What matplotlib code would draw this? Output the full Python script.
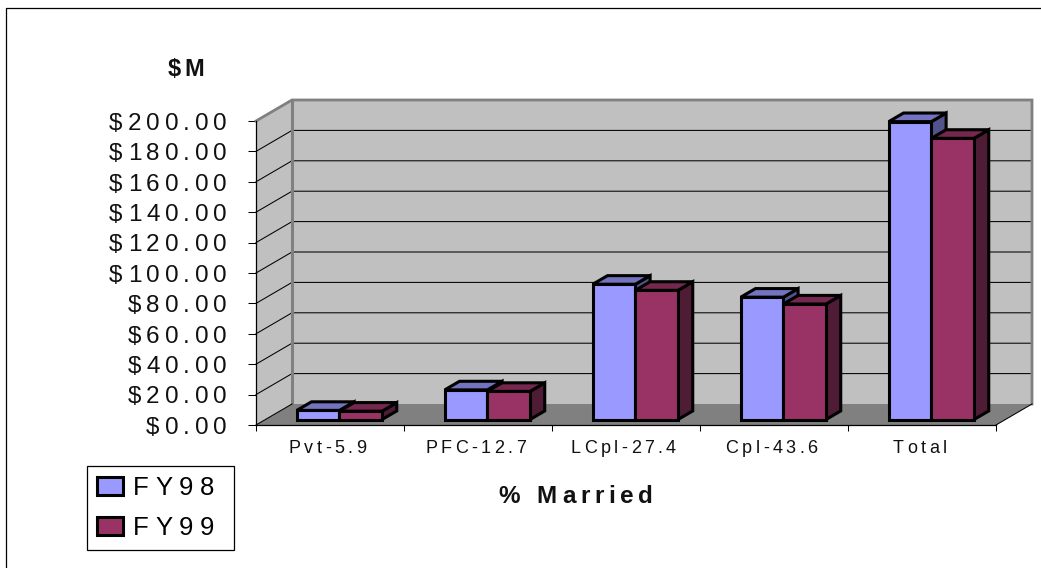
import matplotlib
matplotlib.use("Agg")
import matplotlib.pyplot as plt
from matplotlib.font_manager import findfont, get_font
from matplotlib.ft2font import LoadFlags
from matplotlib.lines import Line2D
from matplotlib.patches import Patch, Polygon
from matplotlib.text import Text
from matplotlib.transforms import Bbox, IdentityTransform

categories = ["Pvt-5.9", "PFC-12.7", "LCpl-27.4", "Cpl-43.6", "Total"]
fy98 = [6, 19.5, 89, 80.5, 196]
fy99 = [5.5, 18.5, 85, 76, 185]
series_names = ["FY98", "FY99"]
y_ticks = list(range(0, 201, 20))
y_labels = [f"${v:.2f}" for v in y_ticks]

plt.rcParams["font.family"] = ["Liberation Sans", "DejaVu Sans"]
W, H = 1041, 568
fig = plt.figure(figsize=(W / 100, H / 100), dpi=100, facecolor="white")
ax = fig.add_axes([256 / W, 1 - 425 / H, 740 / W, 304 / H])
ax.set_xlim(0, 5)
ax.set_ylim(0, 200)
ax.patch.set_visible(False)

# pseudo-3D depth, expressed in data units per full chart depth
DX = 36 / 148
DY = 21 / 1.52
WALL, FLOOR = "#C0C0C0", "#808080"
C98 = ("#9999FF", "#7373C0", "#53538C")
C99 = ("#993366", "#75274E", "#4F1C36")


def P(x, y, d=0.0):
    return (x + d * DX, y + d * DY)


def face(points, fc, ec="none", lw=0.0, z=1):
    ax.add_patch(Polygon(points, closed=True, fc=fc, ec=ec, lw=lw, zorder=z,
                         clip_on=False, joinstyle="miter"))


# walls and floor
face([P(0, 0), P(0, 200), P(0, 200, 1), P(0, 0, 1)], WALL, z=1)
face([P(0, 0, 1), P(0, 200, 1), P(5, 200, 1), P(5, 0, 1)], WALL, z=1)
face([P(0, 0), P(5, 0), P(5, 0, 1), P(0, 0, 1)], FLOOR, z=1)
for v in y_ticks[1:-1]:
    ax.plot(*zip(P(0, v), P(0, v, 1), P(5, v, 1)), color="black", lw=0.75,
            zorder=2, clip_on=False)
ax.plot(*zip(P(0, 200), P(0, 200, 1), P(5, 200, 1), P(5, 0, 1)), color=FLOOR,
        lw=2.0, zorder=2, clip_on=False, solid_joinstyle="miter")
ax.plot(*zip(P(0, 200, 1), P(0, 0, 1)), color=FLOOR, lw=2.2, zorder=2, clip_on=False)
ax.plot(*zip(P(0, 0), P(0, 0, 1)), color="black", lw=0.75, zorder=2, clip_on=False)
ax.plot(*zip(P(5, 0), P(5, 0, 1)), color="black", lw=0.75, zorder=2, clip_on=False)

# bars
BAR_W, D0, D1 = 0.288, 0.26, 0.67
z = 3
for i in range(len(categories)):
    for k, (vals, cols) in enumerate(((fy98, C98), (fy99, C99))):
        x0 = i + 0.5 + (k - 1) * BAR_W
        x1 = x0 + BAR_W
        v = vals[i]
        lw = 2.2
        face([P(x1, 0, D0), P(x1, 0, D1), P(x1, v, D1), P(x1, v, D0)], cols[2], "black", lw, z)
        face([P(x0, v, D0), P(x1, v, D0), P(x1, v, D1), P(x0, v, D1)], cols[1], "black", lw, z)
        face([P(x0, 0, D0), P(x1, 0, D0), P(x1, v, D0), P(x0, v, D0)], cols[0], "black", lw, z)
        z += 1


class TrackedText(Text):
    """Text drawn with extra letter spacing (in pixels)."""
    tracking = 0.0
    nudge = 0.0

    def _layout_px(self):
        fp = self.get_fontproperties()
        dpi = self.get_figure().dpi
        font = get_font(findfont(fp))
        font.set_size(fp.get_size_in_points(), dpi)
        adv = [font.load_char(ord(c), flags=LoadFlags.NO_HINTING).linearHoriAdvance / 65536
               for c in self.get_text()]
        width = sum(adv) + self.tracking * (len(adv) - 1)
        x, y = self.get_transform().transform(self.get_unitless_position())
        cap = 0.716 * fp.get_size_in_points() * dpi / 72
        ha, va = self.get_ha(), self.get_va()
        x0 = x + self.nudge - {"left": 0, "center": width / 2, "right": width}[ha]
        y0 = y - {"center": cap / 2, "top": cap, "center_baseline": cap / 2}.get(va, 0)
        return x0, y0, width, cap, adv

    def get_window_extent(self, renderer=None, dpi=None):
        if not self.get_text():
            return Bbox.null()
        x0, y0, w, cap, _ = self._layout_px()
        return Bbox.from_bounds(x0, y0, w, cap)

    def draw(self, renderer):
        if not self.get_visible() or not self.get_text():
            return
        x0, y0, _, _, adv = self._layout_px()
        x = x0
        for c, a in zip(self.get_text(), adv):
            t = Text(x, y0, c, transform=IdentityTransform(), ha="left", va="baseline",
                     fontproperties=self.get_fontproperties(), color=self.get_color())
            t.set_figure(self.get_figure())
            Text.draw(t, renderer)
            x += a + self.tracking


def track(t, px, nudge=0.0):
    t.__class__ = TrackedText
    t.tracking = px
    t.nudge = nudge


# axes, ticks
for s in ("top", "right"):
    ax.spines[s].set_visible(False)
for s in ("left", "bottom"):
    ax.spines[s].set_linewidth(0.9)
    ax.spines[s].set_zorder(2.5)
ax.set_yticks(y_ticks, y_labels, fontsize=17.5, color="#111111")
ax.tick_params(axis="y", length=6, width=0.75, pad=15)
ax.set_xticks(range(6), [""] * 6)
ax.set_xticks([i + 0.5 for i in range(5)], categories, minor=True, fontsize=13, color="#111111")
ax.tick_params(axis="x", which="major", length=4.5, width=0.75)
ax.tick_params(axis="x", which="minor", length=0, pad=10.5)
for lab in ax.get_yticklabels():
    track(lab, 5)
for lab in ax.get_xticklabels(minor=True):
    track(lab, 3.4, -2.5)

# titles
track(fig.text(186 / W, 1 - 68 / H, "$M", fontsize=17, fontweight="bold", ha="center",
               va="center", color="#111111"), 4)
track(fig.text(576 / W, 1 - 494 / H, "% Married", fontsize=17.5, fontweight="bold", ha="center",
               va="center", color="#111111"), 4.8)

# legend
handles = [Patch(fc=C98[0], ec="black", lw=2.2), Patch(fc=C99[0], ec="black", lw=2.2)]
leg = fig.legend(handles, series_names, loc="upper left",
                 bbox_to_anchor=(87 / W, 1 - 547 / H, 147 / W, 81 / H), mode="expand",
                 borderaxespad=0, fontsize=18.5, fancybox=False, framealpha=1, edgecolor="black",
                 handlelength=1.0, handleheight=0.72, handletextpad=0.4, borderpad=0.4,
                 labelspacing=0.6)
leg.get_frame().set_linewidth(0.9)
for t in leg.get_texts():
    track(t, 6.5)

# outer chart frame (top and left edges visible)
fig.add_artist(Line2D([6 / W, 6 / W, 1], [0, 1 - 8 / H, 1 - 8 / H], color="black", lw=0.9))

fig.savefig("out.png", dpi=100)
